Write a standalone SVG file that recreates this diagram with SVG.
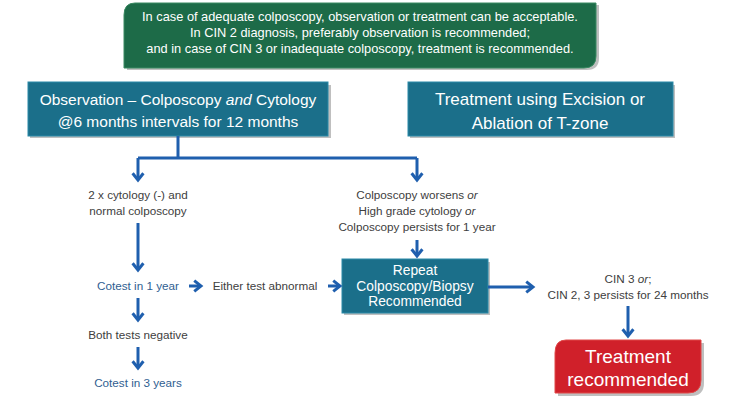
<svg xmlns="http://www.w3.org/2000/svg" width="746" height="403" viewBox="0 0 746 403">
<style>
.t{font-family:"Liberation Sans",Arial,sans-serif;text-anchor:middle}
.w{fill:#ffffff}
.g{fill:#404040;font-size:11.7px}
.b{fill:#2f5e91;font-size:11.7px}
.c{stroke:#1f5fae;stroke-width:3;fill:none}
.sh{fill:#000;opacity:0.25}
.teal{fill:#1b6f8a;stroke:#2a8aa8;stroke-width:1}
</style>
<defs>
<marker id="ah" viewBox="0 0 10 10" refX="6" refY="5" markerWidth="4.5" markerHeight="4.5" orient="auto" markerUnits="strokeWidth">
<polyline points="1,1 6,5 1,9" fill="none" stroke="#1f5fae" stroke-width="2.2"/>
</marker>
</defs>
<g id="note">
<path class="sh" d="M137,5 H599 V58 Q599,70 587,70 H127 V17 Q127,5 137,5 Z"/>
<path d="M135,3 H596 V56 Q596,68 584,68 H124 V15 Q124,3 135,3 Z" fill="#1d6b48" stroke="#3a8a62"/>
<text class="t w" x="360" y="21" font-size="12.8">In case of adequate colposcopy, observation or treatment can be acceptable.</text>
<text class="t w" x="360" y="37" font-size="12.8">In CIN 2 diagnosis, preferably observation is recommended;</text>
<text class="t w" x="360" y="53" font-size="12.8">and in case of CIN 3 or inadequate colposcopy, treatment is recommended.</text>
</g>
<g id="observation">
<rect class="sh" x="30" y="85" width="301" height="53"/>
<rect class="teal" x="28" y="82" width="300" height="54"/>
<text class="t w" x="178" y="105" font-size="15.5">Observation – Colposcopy <tspan font-style="italic">and</tspan> Cytology</text>
<text class="t w" x="178" y="127" font-size="15.5">@6 months intervals for 12 months</text>
</g>
<g id="treatment-excision">
<rect class="sh" x="410" y="85" width="265" height="53"/>
<rect class="teal" x="408" y="82" width="265" height="54"/>
<text class="t w" x="540" y="105" font-size="17">Treatment using Excision or</text>
<text class="t w" x="540" y="129" font-size="17">Ablation of T-zone</text>
</g>
<g id="normal">
<text class="t g" x="138" y="199">2 x cytology (-) and</text>
<text class="t g" x="138" y="215">normal colposcopy</text>
</g>
<g id="worsens">
<text class="t g" x="417" y="199">Colposcopy worsens <tspan font-style="italic">or</tspan></text>
<text class="t g" x="417" y="215">High grade cytology <tspan font-style="italic">or</tspan></text>
<text class="t g" x="417" y="231">Colposcopy persists for 1 year</text>
</g>
<g id="cotest1">
<text class="t b" x="138" y="290">Cotest in 1 year</text>
</g>
<g id="either">
<text class="t g" x="265" y="290">Either test abnormal</text>
</g>
<g id="both">
<text class="t g" x="138" y="339">Both tests negative</text>
</g>
<g id="cotest3">
<text class="t b" x="138" y="387">Cotest in 3 years</text>
</g>
<g id="repeat">
<rect class="sh" x="344" y="262" width="146" height="53"/>
<rect class="teal" x="342" y="259" width="146" height="54"/>
<text class="t w" x="415" y="275" font-size="13.8">Repeat</text>
<text class="t w" x="415" y="290.5" font-size="13.8">Colposcopy/Biopsy</text>
<text class="t w" x="415" y="306" font-size="13.8">Recommended</text>
</g>
<g id="cin">
<text class="t g" x="628" y="283">CIN 3 <tspan font-style="italic">or</tspan>;</text>
<text class="t g" x="628" y="299">CIN 2, 3 persists for 24 months</text>
</g>
<g id="treatment-rec">
<path class="sh" d="M568,343 H704 V383 Q704,396 691,396 H558 V356 Q558,343 568,343 Z"/>
<path d="M566,340 H701 V380 Q701,393 688,393 H555 V353 Q555,340 566,340 Z" fill="#d0202a" stroke="#e04848"/>
<text class="t w" x="628" y="363" font-size="19">Treatment</text>
<text class="t w" x="628" y="386" font-size="19">recommended</text>
</g>
<g id="connectors">
<path class="c" d="M178,136 V158 M138,158 H417" />
<path class="c" d="M138,158 V180" marker-end="url(#ah)"/>
<path class="c" d="M417,158 V180" marker-end="url(#ah)"/>
<path class="c" d="M138,223 V270" marker-end="url(#ah)"/>
<path class="c" d="M417,240 V256" marker-end="url(#ah)"/>
<path class="c" d="M189,286 H201" marker-end="url(#ah)"/>
<path class="c" d="M328,286 H340" marker-end="url(#ah)"/>
<path class="c" d="M488,287 H533" marker-end="url(#ah)"/>
<path class="c" d="M138,298 V320" marker-end="url(#ah)"/>
<path class="c" d="M138,347 V368" marker-end="url(#ah)"/>
<path class="c" d="M628,306 V336" marker-end="url(#ah)"/>
</g>
</svg>
